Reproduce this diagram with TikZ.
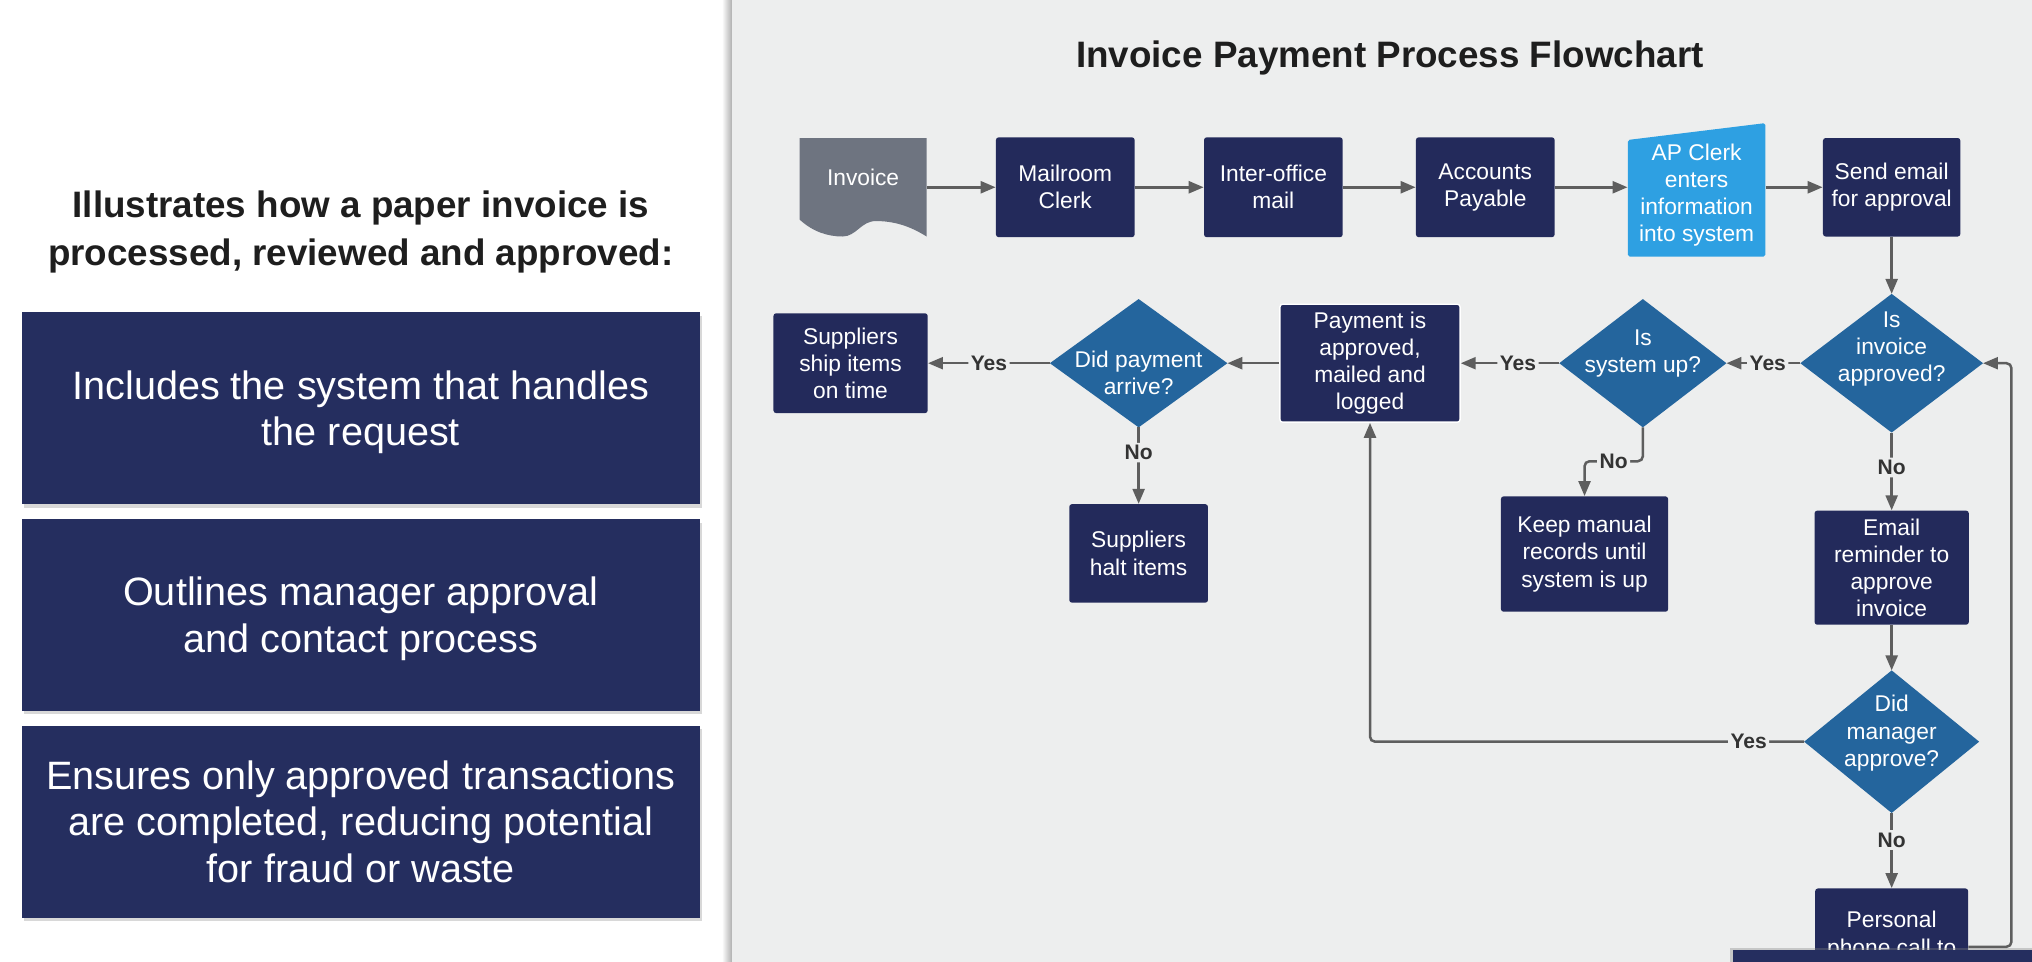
\documentclass[tikz,border=0pt]{standalone}
\usepackage{fontspec}
\setmainfont{Liberation Sans}
\usepackage{xcolor}
\usepackage{tikz}
\usetikzlibrary{arrows.meta,positioning,shapes.geometric,shadows}
\definecolor{navy}{HTML}{232A5B}
\definecolor{sidenavy}{HTML}{252E5F}
\definecolor{steel}{HTML}{24659D}
\definecolor{sky}{HTML}{2EA0E2}
\definecolor{docgray}{HTML}{6E7480}
\definecolor{panelbg}{HTML}{EDEEEE}
\definecolor{wire}{HTML}{5E5E5E}
\definecolor{labelink}{HTML}{333333}
\definecolor{ink}{HTML}{1E1E1E}
\tikzset{
  font=\fontsize{13}{15.5}\selectfont,
  procbox/.style={
    rectangle, fill=navy, text=white, rounded corners=1.5pt,
    align=center, inner sep=1mm, minimum width=27.82mm, minimum height=20.02mm
  },
  decision/.style={diamond, fill=steel, inner sep=0pt, outer sep=0pt},
  dtext/.style={text=white, align=center, inner sep=0pt},
  invoicedoc/.style={
    rectangle, text=white, inner sep=0pt, minimum width=25.48mm, minimum height=19.76mm,
    path picture={
      \fill[docgray] (path picture bounding box.south east) -- (path picture bounding box.north east)
        -- (path picture bounding box.north west) -- ([yshift=3.4mm]path picture bounding box.south west)
        .. controls +(2.6mm,-2.4mm) and +(-3mm,0mm) .. ([xshift=8.6mm]path picture bounding box.south west)
        .. controls +(2.8mm,0mm) and +(-3mm,0mm) .. ([xshift=15.3mm,yshift=3.1mm]path picture bounding box.south west)
        .. controls +(3.5mm,0mm) and +(-3.5mm,2.2mm) .. (path picture bounding box.south east);
    }
  },
  manualin/.style={
    rectangle, text=white, align=center, inner sep=0pt, minimum width=27.56mm, minimum height=28.86mm,
    path picture={
      \fill[sky, rounded corners=1pt] ([yshift=2.08mm]path picture bounding box.south west)
        -- ([yshift=2.08mm]path picture bounding box.south east)
        -- (path picture bounding box.north east)
        -- ([yshift=-3.38mm]path picture bounding box.north west) -- cycle;
    }
  },
  flow/.style={-{Triangle[length=3mm,width=2.4mm]}, draw=wire, line width=0.5mm, rounded corners=1mm},
  yesno/.style={font=\fontsize{12}{14}\selectfont\bfseries, text=labelink, fill=panelbg, inner sep=0.5mm},
  sidebox/.style={
    fill=sidenavy, text=white, minimum width=136mm, minimum height=38.48mm, align=center,
    font=\fontsize{22.6}{26.6}\selectfont,
    drop shadow={shadow xshift=0.5mm, shadow yshift=-0.7mm, opacity=0.3}
  }
}

\begin{document}
\begin{tikzpicture}
  \useasboundingbox (0,0) rectangle (407.68mm,-192.92mm);
  \clip (0,0) rectangle (407.68mm,-192.92mm);

  % Panels
  \fill[white] (0,0) rectangle (144.82mm,-192.92mm);
  \shade[left color=white, right color=black!32] (144.82mm,0) rectangle (146.9mm,-192.92mm);
  \fill[panelbg] (146.9mm,0) rectangle (407.68mm,-192.92mm);

  % Summary column
  \node[align=center, font=\fontsize{21}{27.6}\selectfont\bfseries, text=ink] (heading) at (72.4mm,-46.6mm) {Illustrates how a paper invoice is\\processed, reviewed and approved:};
  \node[sidebox] (why1) at (72.4mm,-81.9mm) {\\[-2mm]Includes the system that handles\\the request};
  \node[sidebox, below=2.86mm of why1] (why2) {\\[-2mm]Outlines manager approval\\and contact process};
  \node[sidebox, below=2.86mm of why2] (why3) {Ensures only approved transactions\\are completed, reducing potential\\for fraud or waste};

  % Title
  \node[font=\fontsize{21}{25}\selectfont\bfseries, text=ink] (title) at (278.85mm,-11.7mm) {Invoice Payment Process Flowchart};

  % Intake row
  \node[invoicedoc] (invoice) at (173.16mm,-37.57mm) {\raisebox{0.3mm}[0pt][0pt]{Invoice}};
  \node[procbox, right=13.78mm of invoice] (mail) {Mailroom\\Clerk};
  \node[procbox, right=13.78mm of mail] (inter) {Inter-office\\mail};
  \node[procbox, right=14.56mm of inter] (acct) {Accounts\\Payable};
  \node[manualin, right=14.56mm of acct, yshift=-1.56mm] (apclerk) {AP Clerk\\enters\\information\\into system};
  \node[procbox, right=11.44mm of apclerk, yshift=1.56mm, minimum width=27.56mm, minimum height=19.76mm] (send) {Send email\\for approval};

  % Approval row
  \node[decision, minimum width=36.66mm, minimum height=27.82mm, below=11.44mm of send] (appr) {};
  \node[dtext, yshift=2.9mm] (appr-t) at (appr) {Is\\invoice\\approved?};
  \node[decision, minimum width=33.54mm, minimum height=25.74mm, left=14.82mm of appr] (sysup) {};
  \node[dtext, yshift=1.87mm] (sysup-t) at (sysup) {Is\\system up?};
  \node[procbox, draw=white, line width=0.8pt, minimum width=36.14mm, minimum height=23.66mm, left=19.76mm of sysup] (pay) {Payment is\\approved,\\mailed and\\logged};
  \node[decision, minimum width=35.62mm, minimum height=25.74mm, left=10.4mm of pay] (arrive) {};
  \node[dtext, yshift=-1.95mm] (arrive-t) at (arrive) {Did payment\\arrive?};
  \node[procbox, minimum width=30.94mm, left=24.44mm of arrive] (ship) {Suppliers\\ship items\\on time};
  \node[procbox, minimum height=19.76mm, below=15.34mm of arrive] (halt) {Suppliers\\halt items};
  \node[procbox, minimum width=33.54mm, minimum height=23.14mm, below=13.78mm of sysup, xshift=-11.7mm] (manual) {Keep manual\\records until\\system is up};

  % Reminder column
  \node[procbox, minimum width=30.94mm, minimum height=22.88mm, below=15.6mm of appr] (remind) {Email\\reminder to\\approve\\invoice};
  \node[decision, minimum width=35.1mm, minimum height=28.6mm, below=9.1mm of remind] (mgr) {};
  \node[dtext, yshift=1.7mm] (mgr-t) at (mgr) {Did\\manager\\approve?};
  \node[procbox, minimum width=30.68mm, inner ysep=4.6mm, below=15.08mm of mgr] (call) {Personal\\phone call to\\\mbox{}};

  % Connections
  \draw[flow] (invoice.east) -- (mail.west);
  \draw[flow] (mail.east) -- (inter.west);
  \draw[flow] (inter.east) -- (acct.west);
  \draw[flow] (acct.east) -- (acct.east -| apclerk.west);
  \draw[flow] (send.west -| apclerk.east) -- (send.west);
  \draw[flow] (send.south) -- (appr.north);
  \draw[flow] (appr.west) -- node[yesno, pos=0.44] {Yes} (sysup.east);
  \draw[flow] (sysup.west) -- node[yesno, pos=0.42] {Yes} (pay.east);
  \draw[flow] (pay.west) -- (arrive.east);
  \draw[flow] (arrive.west) -- node[yesno] {Yes} (ship.east);
  \draw[flow] (arrive.south) -- node[yesno, pos=0.33] {No} (halt.north);
  \draw[flow] (sysup.south) -- ++(0,-6.8mm) -| node[yesno, pos=0.25] {No} (manual.north);
  \draw[flow] (appr.south) -- node[yesno, pos=0.45] {No} (remind.north);
  \draw[flow] (remind.south) -- (mgr.north);
  \draw[flow] (mgr.west) -| node[yesno, pos=0.064] {Yes} (pay.south);
  \draw[flow] (mgr.south) -- node[yesno, pos=0.36] {No} (call.north);
  \draw[flow] (call.east) -| ([xshift=5.7mm]appr.east) -- (appr.east);

  % Next slide strip
  \fill[sidenavy, drop shadow={shadow xshift=-0.6mm, shadow yshift=0.4mm, opacity=0.35}] (347.6mm,-190.6mm) rectangle (412mm,-200mm);
\end{tikzpicture}
\end{document}
